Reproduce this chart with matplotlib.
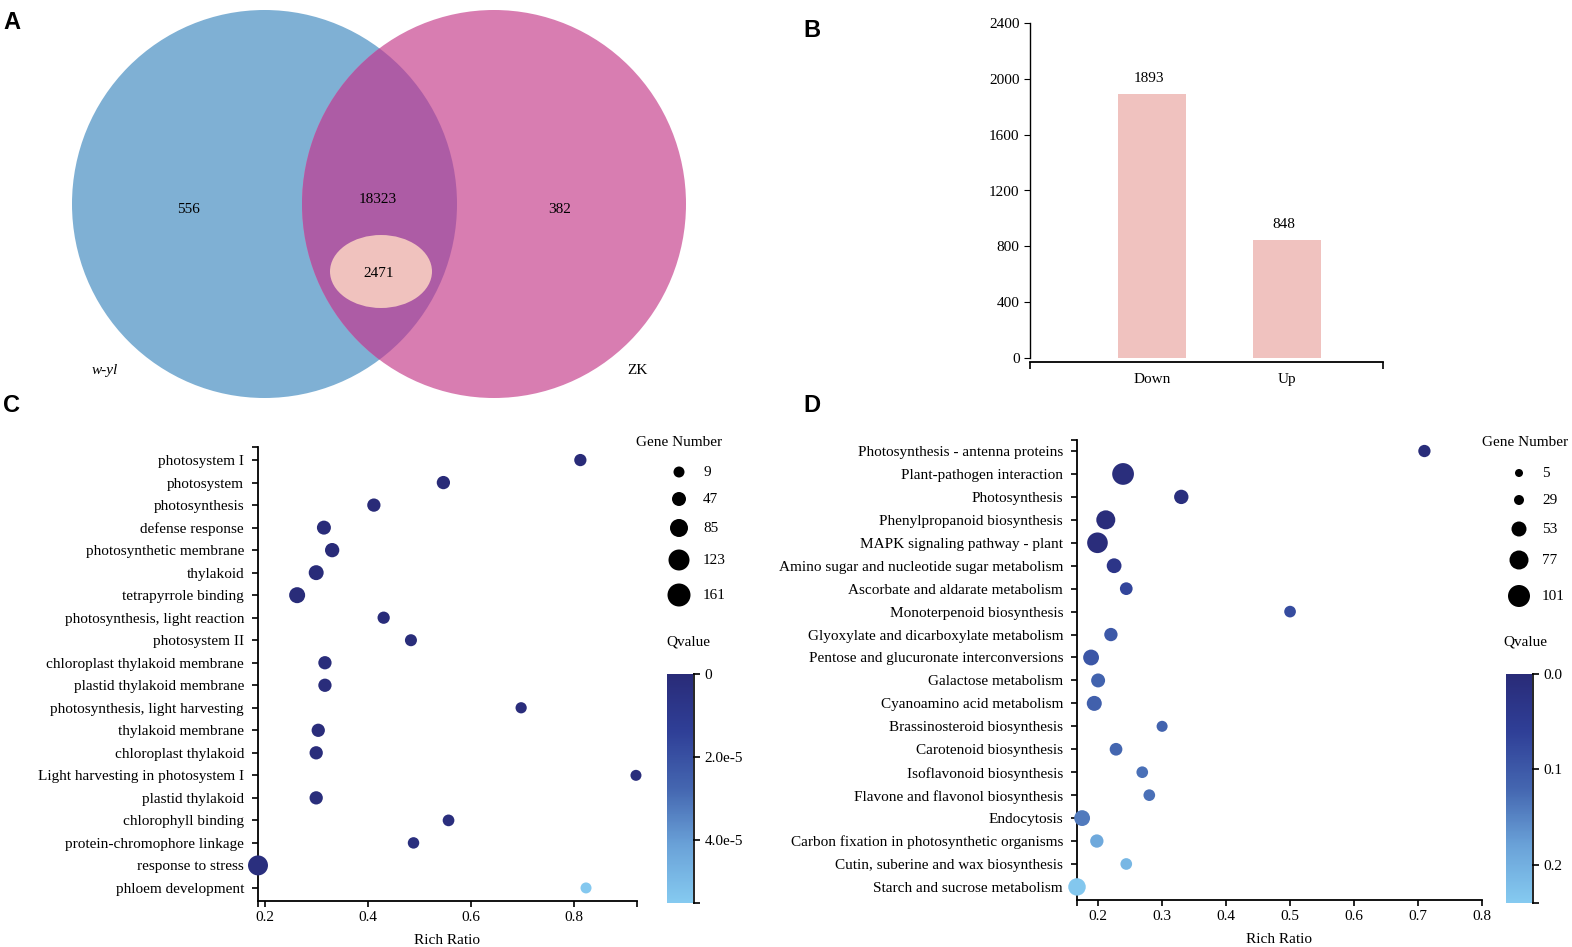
import numpy as np
import matplotlib.pyplot as plt
from matplotlib.patches import Ellipse
from matplotlib.colors import LinearSegmentedColormap, Normalize
from matplotlib.cm import ScalarMappable

plt.rcParams['font.family'] = 'Liberation Serif'

# ---- data ----
# A: Venn
set_names = ['w-yl', 'ZK']
only_wyl = 556
shared = 18323
only_zk = 382
shared_deg = 2471

# B: DEG counts
deg_cats = ['Down', 'Up']
deg_vals = [1893, 848]

# C: GO enrichment
go_terms = ['photosystem I', 'photosystem', 'photosynthesis', 'defense response',
            'photosynthetic membrane', 'thylakoid', 'tetrapyrrole binding',
            'photosynthesis, light reaction', 'photosystem II',
            'chloroplast thylakoid membrane', 'plastid thylakoid membrane',
            'photosynthesis, light harvesting', 'thylakoid membrane',
            'chloroplast thylakoid', 'Light harvesting in photosystem I',
            'plastid thylakoid', 'chlorophyll binding',
            'protein-chromophore linkage', 'response to stress', 'phloem development']
go_ratio = [0.812, 0.546, 0.411, 0.314, 0.330, 0.299, 0.262, 0.430, 0.483, 0.316,
            0.316, 0.697, 0.303, 0.299, 0.920, 0.299, 0.556, 0.488, 0.186, 0.823]
go_genes = [25, 38, 38, 47, 50, 56, 66, 25, 22, 38, 38, 12, 38, 38, 9, 38, 18, 15, 110, 9]
go_q = [1e-7, 2e-7, 3e-7, 5e-7, 4e-7, 6e-7, 8e-7, 9e-7, 1.1e-6, 1.3e-6, 1.3e-6, 1.5e-6,
        1.6e-6, 1.6e-6, 2e-6, 2e-6, 2.4e-6, 2.8e-6, 3e-6, 5.45e-5]
go_size_ticks = [9, 47, 85, 123, 161]
go_q_max = 5.52e-5

# D: KEGG enrichment
kegg_terms = ['Photosynthesis - antenna proteins', 'Plant-pathogen interaction',
              'Photosynthesis', 'Phenylpropanoid biosynthesis',
              'MAPK signaling pathway - plant', 'Amino sugar and nucleotide sugar metabolism',
              'Ascorbate and aldarate metabolism', 'Monoterpenoid biosynthesis',
              'Glyoxylate and dicarboxylate metabolism',
              'Pentose and glucuronate interconversions', 'Galactose metabolism',
              'Cyanoamino acid metabolism', 'Brassinosteroid biosynthesis',
              'Carotenoid biosynthesis', 'Isoflavonoid biosynthesis',
              'Flavone and flavonol biosynthesis', 'Endocytosis',
              'Carbon fixation in photosynthetic organisms',
              'Cutin, suberine and wax biosynthesis', 'Starch and sucrose metabolism']
kegg_ratio = [0.710, 0.239, 0.330, 0.212, 0.199, 0.225, 0.244, 0.500, 0.220, 0.189,
              0.200, 0.194, 0.300, 0.228, 0.269, 0.280, 0.175, 0.198, 0.244, 0.167]
kegg_genes = [40, 99, 50, 77, 90, 52, 42, 37, 45, 58, 48, 53, 34, 42, 37, 37, 58, 45, 37, 68]
kegg_q = [0.005, 0.008, 0.012, 0.006, 0.007, 0.030, 0.070, 0.080, 0.100, 0.095, 0.115,
          0.110, 0.115, 0.120, 0.130, 0.130, 0.140, 0.190, 0.210, 0.235]
kegg_size_ticks = [5, 29, 53, 77, 101]
kegg_q_max = 0.24

# ---- style helpers ----
W, H = 1572, 947
fig = plt.figure(figsize=(W / 100, H / 100), dpi=100)
cmap = LinearSegmentedColormap.from_list(
    'q', ['#292b78', '#2f3f97', '#4466b0', '#6aa2d8', '#85caf0'])


def box(l, t, r, b):
    return [l / W, 1 - b / H, (r - l) / W, (b - t) / H]


def dot_size(n, ticks, px):
    d = np.interp(n, ticks, px)
    return (d * 0.72) ** 2


go_px = [11, 14, 18, 21, 23]
kegg_px = [8, 10, 15, 19, 22]
FS = 11


def style_axes(ax, xlim, ylim):
    ax.spines['top'].set_visible(False)
    ax.spines['right'].set_visible(False)
    for s in ['left', 'bottom']:
        ax.spines[s].set_linewidth(1.3)
    ax.set_xlim(*xlim)
    ax.set_ylim(*ylim)
    ax.tick_params(which='both', direction='out', length=4, width=1.2, labelsize=FS)
    ax.tick_params(axis='y', pad=6)
    ax.set_xticks([xlim[0]], minor=True)
    ax.set_yticks([ylim[1]], minor=True)
    ax.xaxis.set_minor_formatter(plt.NullFormatter())
    ax.yaxis.set_minor_formatter(plt.NullFormatter())


# ---- B ----
axb = fig.add_axes(box(1030, 23, 1383, 358))
xb = np.arange(len(deg_cats))
axb.bar(xb, deg_vals, width=0.5, color='#f0c2bf')
for i, v in enumerate(deg_vals):
    axb.annotate(str(v), (xb[i], v), xytext=(-2, 6), textcoords='offset points',
                 ha='center', va='bottom', fontsize=FS)
axb.set_ylim(0, 2400)
axb.set_xlim(-0.904, 1.711)
axb.set_yticks(np.arange(0, 2401, 400))
axb.set_xticks(xb, deg_cats)
axb.set_xticks([-0.904, 1.711], minor=True)
axb.spines['top'].set_visible(False)
axb.spines['right'].set_visible(False)
axb.spines['bottom'].set_position(('outward', 3))
axb.spines['left'].set_linewidth(1.0)
axb.spines['bottom'].set_linewidth(1.3)
axb.tick_params(axis='y', direction='out', length=4, labelsize=FS)
axb.tick_params(axis='x', which='major', length=0, pad=8, labelsize=FS)
axb.tick_params(axis='x', which='minor', length=5, width=1.2)

# ---- C ----
axc = fig.add_axes(box(258, 447, 637, 901))
norm_c = Normalize(0, go_q_max)
yc = np.arange(len(go_terms))
axc.scatter(go_ratio, yc, s=dot_size(go_genes, go_size_ticks, go_px), c=go_q,
            cmap=cmap, norm=norm_c, edgecolors='none', zorder=3, clip_on=False)
style_axes(axc, (0.186, 0.922), (19.58, -0.58))
axc.set_yticks(yc, go_terms)
axc.set_xticks([0.2, 0.4, 0.6, 0.8])
axc.set_xticks([0.186, 0.922], minor=True)
axc.set_xlabel('Rich Ratio', fontsize=FS, labelpad=7)

caxc = fig.add_axes(box(667, 674, 693, 903))
cbc = fig.colorbar(ScalarMappable(norm_c, cmap), cax=caxc)
cbc.outline.set_visible(False)
caxc.invert_yaxis()
cbc.set_ticks([0, 2e-5, 4e-5], labels=['0', '2.0e-5', '4.0e-5'])
caxc.set_yticks([go_q_max], minor=True)
caxc.tick_params(which='both', direction='out', length=5, width=1.2, labelsize=FS)

# ---- D ----
axd = fig.add_axes(box(1077, 440, 1482, 900))
norm_d = Normalize(0, kegg_q_max)
yd = np.arange(len(kegg_terms))
axd.scatter(kegg_ratio, yd, s=dot_size(kegg_genes, kegg_size_ticks, kegg_px), c=kegg_q,
            cmap=cmap, norm=norm_d, edgecolors='none', zorder=3, clip_on=False)
style_axes(axd, (0.167, 0.8), (19.57, -0.48))
axd.set_yticks(yd, kegg_terms)
axd.set_xticks(np.arange(0.2, 0.81, 0.1))
axd.xaxis.set_major_formatter(plt.FormatStrFormatter('%.1f'))
axd.set_xlabel('Rich Ratio', fontsize=FS, labelpad=7)

caxd = fig.add_axes(box(1506, 674, 1532, 903))
cbd = fig.colorbar(ScalarMappable(norm_d, cmap), cax=caxd)
cbd.outline.set_visible(False)
caxd.invert_yaxis()
cbd.set_ticks([0, 0.1, 0.2], labels=['0.0', '0.1', '0.2'])
caxd.set_yticks([kegg_q_max], minor=True)
caxd.tick_params(which='both', direction='out', length=5, width=1.2, labelsize=FS)

# ---- overlay: Venn, legends, panel letters ----
ov = fig.add_axes([0, 0, 1, 1])
ov.set_xlim(0, W)
ov.set_ylim(H, 0)
ov.axis('off')

left = Ellipse((264.5, 204), 385, 388, color='#7fb0d4', lw=0)
right = Ellipse((494, 204), 384, 388, color='#d87db1', lw=0)
both = Ellipse((494, 204), 384, 388, color='#ad5ca5', lw=0)
small = Ellipse((381, 271.5), 102, 73, color='#f0c2be', lw=0)
for p in [left, right, both, small]:
    ov.add_patch(p)
both.set_clip_path(left)
ov.text(188, 209, str(only_wyl), ha='center', va='center', fontsize=FS)
ov.text(378, 199, str(shared), ha='center', va='center', fontsize=FS)
ov.text(560, 209, str(only_zk), ha='center', va='center', fontsize=FS)
ov.text(379, 273, str(shared_deg), ha='center', va='center', fontsize=FS)
ov.text(105, 370, set_names[0], ha='center', va='center', fontsize=FS, style='italic')
ov.text(638, 370, set_names[1], ha='center', va='center', fontsize=FS)

# colorbar side lines
for xline in [693.5, 1532.5]:
    ov.plot([xline, xline], [674, 903], color='k', lw=1.2)

# size legends
for cx, tx, title_x, ticks, px, ys in [
        (679, 703, 679, go_size_ticks, go_px, [472, 499, 528, 560, 595]),
        (1519, 1542, 1525, kegg_size_ticks, kegg_px, [473, 500, 529, 560, 596])]:
    ov.text(title_x, 442, 'Gene Number', ha='center', va='center', fontsize=FS)
    ov.scatter([cx] * len(ticks), ys, s=dot_size(ticks, ticks, px), color='black',
               edgecolors='none')
    for v, yy in zip(ticks, ys):
        ov.text(tx, yy, str(v), ha='left', va='center', fontsize=FS)
ov.text(688, 642, 'Qvalue', ha='center', va='center', fontsize=FS)
ov.text(1525, 642, 'Qvalue', ha='center', va='center', fontsize=FS)

for lab, x, y in [('A', 12, 22), ('B', 812, 30), ('C', 12, 405), ('D', 812, 405)]:
    ov.text(x, y, lab, ha='center', va='center', fontsize=17, fontweight='bold',
            family='Liberation Sans')

fig.savefig('out.png', dpi=100)
